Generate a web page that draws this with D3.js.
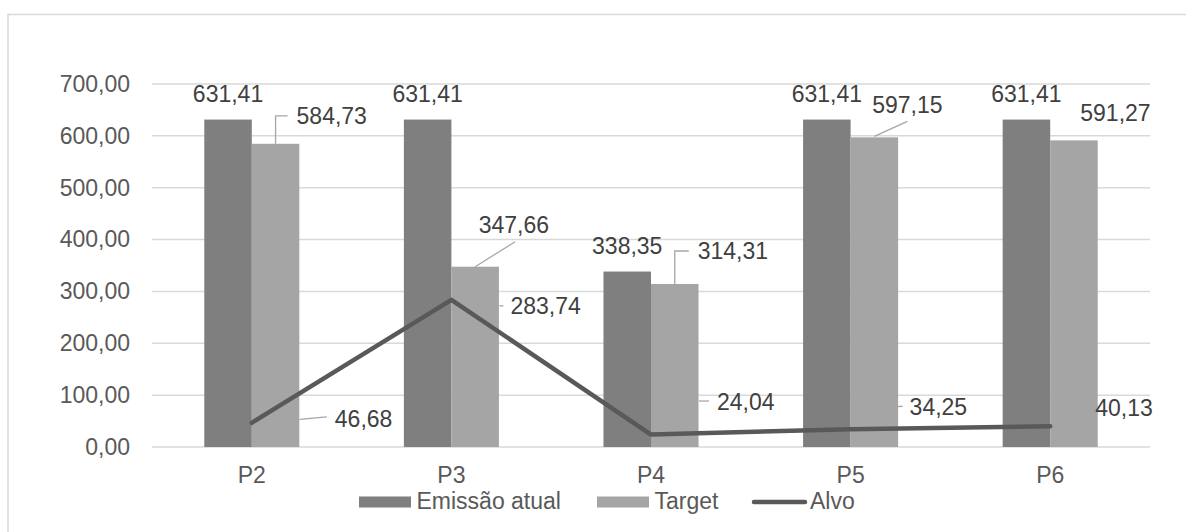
<!DOCTYPE html>
<html>
<head>
<meta charset="utf-8">
<script src="https://cdn.jsdelivr.net/npm/d3@7"></script>
<style>
  body { margin: 0; background: #fff; }
  svg { display: block; font-family: "Liberation Sans", Arial, sans-serif; }
</style>
</head>
<body>
<svg id="chart" width="1186" height="532"></svg>
<script>
// chart values
const categories = ["P2", "P3", "P4", "P5", "P6"];
const emissaoAtual = [631.41, 631.41, 338.35, 631.41, 631.41];
const target = [584.73, 347.66, 314.31, 597.15, 591.27];
const alvo = [46.68, 283.74, 24.04, 34.25, 40.13];
const yTicks = [0, 100, 200, 300, 400, 500, 600, 700];
const seriesNames = ["Emissão atual", "Target", "Alvo"];

// label placement (offsets from the anchor point, like Excel's dragged labels)
const targetLabelLayout = [
  { leader: [[0, 0], [0, -28], [12, -28]], dx: 21, dy: -20, anchor: "start" },
  { leader: [[0, 0], [40, -25]], dx: 3.5, dy: -34, anchor: "start" },
  { leader: [[0, 0], [0, -33], [14, -33]], dx: 23, dy: -25, anchor: "start" },
  { leader: [[0, -1], [33, -16]], dx: 33, dy: -24.5, anchor: "middle" },
  { leader: null, dx: 41.5, dy: -19.5, anchor: "middle" }
];
const alvoLabelLayout = [
  { leader: [[48, -3.5], [75, -6]], dx: 83, dy: 4 },
  { leader: [[48, 6], [52, 6]], dx: 59, dy: 14 },
  { leader: [[48, -33.5], [58, -33.5]], dx: 66, dy: -24.5 },
  { leader: [[47, -22.6], [52, -23]], dx: 59, dy: -14 },
  { leader: null, dx: 45, dy: -10 }
];

const colors = { emissao: "#7f7f7f", target: "#a5a5a5", alvo: "#595959" };
const fontSize = 23;

const ptBR = d3.formatLocale({ decimal: ",", thousands: ".", grouping: [3], currency: ["R$", ""] });
const fmt = ptBR.format(".2f");

const svg = d3.select("#chart");

// outer chart border (extends past the picture on right and bottom)
svg.append("rect")
  .attr("x", 8).attr("y", 14.5)
  .attr("width", 1220).attr("height", 540)
  .attr("fill", "none")
  .attr("stroke", "#d9d9d9")
  .attr("stroke-width", 1.5);

const plot = { left: 152, right: 1150, top: 84, bottom: 447 };

const x0 = d3.scaleBand()
  .domain(categories)
  .range([plot.left, plot.right])
  .padding(0);

const x1 = d3.scaleBand()
  .domain(["emissao", "target"])
  .range([0, x0.bandwidth()])
  .paddingInner(0)
  .paddingOuter(1.1);

const y = d3.scaleLinear()
  .domain([0, 700])
  .range([plot.bottom, plot.top]);

const cx = c => x0(c) + x0.bandwidth() / 2;

// gridlines
svg.append("g")
  .selectAll("line")
  .data(yTicks)
  .join("line")
  .attr("x1", plot.left)
  .attr("x2", plot.right)
  .attr("y1", d => y(d))
  .attr("y2", d => y(d))
  .attr("stroke", "#d9d9d9")
  .attr("stroke-width", 1.5);

// y axis
const yAxis = svg.append("g")
  .attr("transform", `translate(${plot.left},0)`)
  .call(d3.axisLeft(y).tickValues(yTicks).tickSize(0).tickPadding(22).tickFormat(fmt));
yAxis.select(".domain").remove();
yAxis.selectAll("text")
  .attr("font-family", "Liberation Sans, Arial, sans-serif")
  .attr("font-size", fontSize)
  .attr("fill", "#595959");

// x axis
const xAxis = svg.append("g")
  .attr("transform", `translate(0,${plot.bottom})`)
  .call(d3.axisBottom(x0).tickSize(0).tickPadding(20));
xAxis.select(".domain").remove();
xAxis.selectAll("text")
  .attr("font-family", "Liberation Sans, Arial, sans-serif")
  .attr("font-size", fontSize)
  .attr("fill", "#595959");

// bars
const bars = svg.append("g");
bars.selectAll(".bar-emissao")
  .data(categories)
  .join("rect")
  .attr("class", "bar-emissao")
  .attr("x", (c) => x0(c) + x1("emissao"))
  .attr("width", x1.bandwidth())
  .attr("y", (c, i) => y(emissaoAtual[i]))
  .attr("height", (c, i) => y(0) - y(emissaoAtual[i]))
  .attr("fill", colors.emissao);

bars.selectAll(".bar-target")
  .data(categories)
  .join("rect")
  .attr("class", "bar-target")
  .attr("x", (c) => x0(c) + x1("target"))
  .attr("width", x1.bandwidth())
  .attr("y", (c, i) => y(target[i]))
  .attr("height", (c, i) => y(0) - y(target[i]))
  .attr("fill", colors.target);

// Alvo line
const line = d3.line()
  .x((d, i) => cx(categories[i]))
  .y(d => y(d));

svg.append("path")
  .datum(alvo)
  .attr("d", line)
  .attr("fill", "none")
  .attr("stroke", colors.alvo)
  .attr("stroke-width", 4.5)
  .attr("stroke-linejoin", "round")
  .attr("stroke-linecap", "round");

// data labels
const labels = svg.append("g")
  .attr("font-size", fontSize)
  .attr("fill", "#404040");

const leaderLine = d3.line();

// Emissão atual labels
categories.forEach((c, i) => {
  labels.append("text")
    .attr("x", x0(c) + x1("emissao") + x1.bandwidth() / 2)
    .attr("y", y(emissaoAtual[i]) - 18)
    .attr("text-anchor", "middle")
    .text(fmt(emissaoAtual[i]));
});

// Target labels
categories.forEach((c, i) => {
  const bx = x0(c) + x1("target") + x1.bandwidth() / 2;
  const by = y(target[i]);
  const l = targetLabelLayout[i];
  if (l.leader) {
    labels.append("path")
      .attr("d", leaderLine(l.leader.map(p => [bx + p[0], by + p[1]])))
      .attr("fill", "none")
      .attr("stroke", "#a6a6a6")
      .attr("stroke-width", 1.3);
  }
  labels.append("text")
    .attr("x", bx + l.dx)
    .attr("y", by + l.dy)
    .attr("text-anchor", l.anchor)
    .text(fmt(target[i]));
});

// Alvo labels
categories.forEach((c, i) => {
  const px = cx(c);
  const py = y(alvo[i]);
  const l = alvoLabelLayout[i];
  if (l.leader) {
    labels.append("path")
      .attr("d", leaderLine(l.leader.map(p => [px + p[0], py + p[1]])))
      .attr("fill", "none")
      .attr("stroke", "#a6a6a6")
      .attr("stroke-width", 1.3);
  }
  labels.append("text")
    .attr("x", px + l.dx)
    .attr("y", py + l.dy)
    .text(fmt(alvo[i]));
});

// legend
const legend = svg.append("g")
  .attr("font-size", fontSize)
  .attr("fill", "#595959");
const legendItems = [
  { name: seriesNames[0], type: "rect", color: colors.emissao, x: 359 },
  { name: seriesNames[1], type: "rect", color: colors.target, x: 597 },
  { name: seriesNames[2], type: "line", color: colors.alvo, x: 752 }
];
const legendY = 502;
legendItems.forEach(d => {
  if (d.type === "rect") {
    legend.append("rect")
      .attr("x", d.x).attr("y", legendY - 5.5)
      .attr("width", 52).attr("height", 11)
      .attr("fill", d.color);
  } else {
    legend.append("line")
      .attr("x1", d.x + 2).attr("x2", d.x + 53)
      .attr("y1", legendY).attr("y2", legendY)
      .attr("stroke", d.color)
      .attr("stroke-width", 4.5)
      .attr("stroke-linecap", "round");
  }
  legend.append("text")
    .attr("x", d.x + (d.type === "rect" ? 57.5 : 58))
    .attr("y", legendY + 6.5)
    .text(d.name);
});
</script>
</body>
</html>
